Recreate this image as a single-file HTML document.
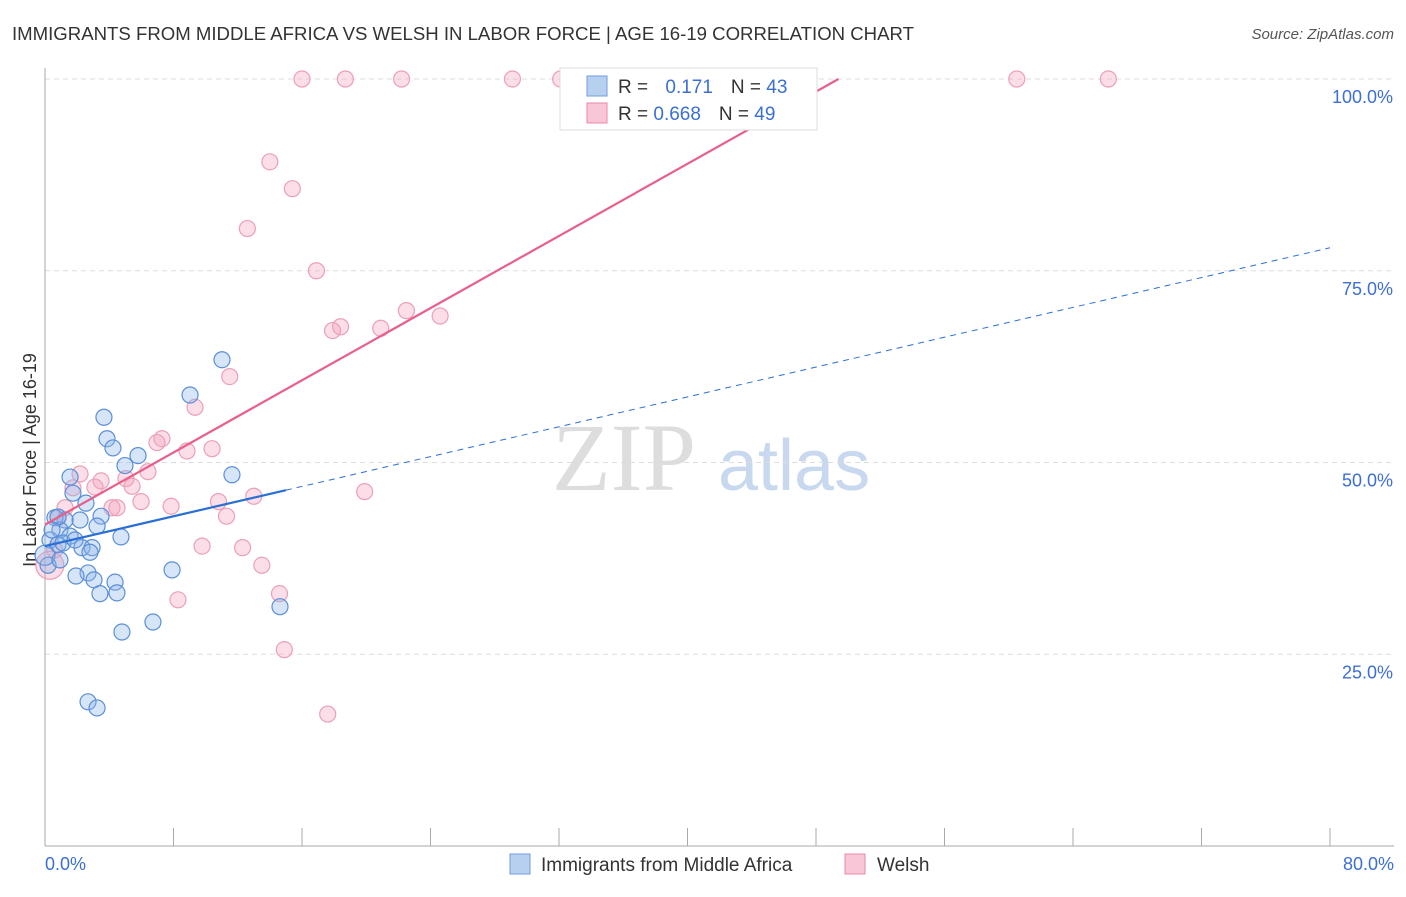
<!DOCTYPE html>
<html><head><meta charset="utf-8"><style>
body{margin:0;background:#fff;font-family:"Liberation Sans",sans-serif;}
svg text{font-family:"Liberation Sans",sans-serif;}
</style></head><body>
<svg id="c" width="1406" height="892" xmlns="http://www.w3.org/2000/svg">
<text x="12" y="40" font-size="18.6" fill="#333">IMMIGRANTS FROM MIDDLE AFRICA VS WELSH IN LABOR FORCE | AGE 16-19 CORRELATION CHART</text>
<text x="1394" y="39" font-size="15" fill="#555" font-style="italic" text-anchor="end">Source: ZipAtlas.com</text>
<text x="36" y="460" font-size="18" fill="#333" transform="rotate(-90 36 460)" text-anchor="middle">In Labor Force | Age 16-19</text>
<g><text x="552" y="490" font-size="96" fill="#ddd" style="font-family:'Liberation Serif',serif">ZIP</text><text x="718" y="490" font-size="72" fill="#c8d8ee">atlas</text></g>
<g id="grid"></g><g id="pts"></g><g id="lines"></g>
<g>
<rect x="560" y="68" width="257" height="62" fill="#fff" stroke="#ddd"/>
<rect x="587" y="76" width="20" height="20" fill="#b8d0f0" stroke="#6f9ee0"/>
<text x="618" y="93" font-size="19" fill="#333">R = <tspan fill="#3b6fd4" dx="12">0.171</tspan><tspan dx="18">N = </tspan><tspan fill="#3b6fd4">43</tspan></text>
<rect x="587" y="103" width="20" height="20" fill="#f8c6d6" stroke="#e98aa8"/>
<text x="618" y="120" font-size="19" fill="#333">R = <tspan fill="#3b6fd4">0.668</tspan><tspan dx="18">N = </tspan><tspan fill="#3b6fd4">49</tspan></text>
</g>
<g>
<rect x="510" y="854" width="20" height="20" fill="#b8d0f0" stroke="#6f9ee0"/>
<text x="541" y="871" font-size="19" fill="#333">Immigrants from Middle Africa</text>
<rect x="845" y="854" width="20" height="20" fill="#f8c6d6" stroke="#e98aa8"/>
<text x="877" y="871" font-size="19" fill="#333">Welsh</text>
</g>
</svg>
<script>
const blueX=[3.67,3.86,4.23,5.79,4.98,1.56,1.74,2.55,3.49,2.18,3.24,1.25,0.62,0.93,1.56,4.73,0.31,0.81,2.30,2.93,2.80,0.19,2.68,1.93,3.05,4.36,3.42,4.48,4.79,6.72,7.91,9.03,11.02,11.64,14.63,2.68,3.24,0.81,1.12,0.44,1.87,0.0,0.93];
const blueY=[55.9,53.1,51.9,50.9,49.6,48.1,46.0,44.7,43.0,42.5,41.7,42.5,42.8,41.2,40.4,40.3,39.9,39.3,38.9,38.9,38.3,36.6,35.6,35.2,34.7,34.4,32.9,33.0,27.9,29.2,36.0,58.8,63.4,48.4,31.2,18.8,18.0,42.9,39.5,41.2,39.9,37.9,37.3];
const pinkX=[16.0,18.7,22.2,29.1,32.1,36.4,60.5,66.2,14.0,15.4,12.6,16.9,22.5,24.6,18.4,17.9,20.9,11.5,9.34,7.28,6.97,10.4,8.84,6.41,2.18,3.49,5.04,5.42,3.11,1.74,5.98,7.85,10.8,13.0,19.9,4.17,4.48,11.3,1.25,0.81,9.78,12.3,13.5,14.6,8.28,14.9,17.6,0.3,0.6];
const pinkY=[100,100,100,100,100,100,100,100,89.2,85.7,80.5,75.0,69.8,69.1,67.7,67.2,67.5,61.2,57.2,53.1,52.6,51.8,51.5,48.8,48.5,47.6,47.9,46.9,46.8,46.7,44.9,44.3,44.9,45.6,46.2,44.1,44.1,43.0,44.1,42.8,39.1,38.9,36.6,32.9,32.1,25.6,17.2,36.6,38.6];
const blueTrend=[39.1,78.0]; // y at x=0, x=80
const pinkTrend=[41.9,49.4]; // y at x=0, x where y=100
const yTicks=[25,50,75,100];
const xTickLabels=["0.0%","80.0%"];
const X=v=>45+v/80*1285, Y=v=>846-v/100*767;
const NS="http://www.w3.org/2000/svg";
function mk(t,a,p){const e=document.createElementNS(NS,t);for(const k in a)e.setAttribute(k,a[k]);p.appendChild(e);return e;}
const g=document.getElementById('grid');
for(const t of yTicks){
 const l=mk('line',{x1:45,x2:1394,y1:Y(t),y2:Y(t),stroke:'#ddd','stroke-dasharray':'5,4'},g);
 
 
 const tx=mk('text',{x:1393,y:Y(t)+24,'font-size':18,fill:'#3b6fd4','text-anchor':'end'},g);tx.textContent=t.toFixed(1)+'%';
 
 
}
const ax=mk('line',{x1:45,x2:45,y1:68,y2:846,stroke:'#aaa'},g);


const bx=mk('line',{x1:45,x2:1394,y1:846,y2:846,stroke:'#aaa'},g);


for(let i=0;i<=10;i++){const tk=mk('line',{x1:X(i*8),x2:X(i*8),y1:828,y2:846,stroke:'#aaa'},g);
 
 }
[[0,45,'start'],[80,1394,'end']].forEach((d,i)=>{const t=mk('text',{x:d[1],y:870,'font-size':18,fill:'#3b6fd4','text-anchor':d[2]},g);t.textContent=xTickLabels[i];
 
 });
const p=document.getElementById('pts');
pinkX.forEach((x,i)=>{const c=mk('circle',{cx:X(x),cy:Y(pinkY[i]),r:i==47?14:8,fill:'rgba(244,160,188,0.35)',stroke:'#eba0b8','stroke-width':1.2},p);
 
 });
blueX.forEach((x,i)=>{const c=mk('circle',{cx:X(x),cy:Y(blueY[i]),r:i==41?10:8,fill:'rgba(140,180,235,0.35)',stroke:'#5b8fd8','stroke-width':1.2},p);
 
 });
const L=document.getElementById('lines');
const by=x=>blueTrend[0]+(blueTrend[1]-blueTrend[0])*x/80;
let l1=mk('line',{x1:X(0),y1:Y(by(0)),x2:X(15),y2:Y(by(15)),stroke:'#2a6fd6','stroke-width':2.2},L);


let l2=mk('line',{x1:X(15),y1:Y(by(15)),x2:X(80),y2:Y(by(80)),stroke:'#2a6fd6','stroke-width':1,'stroke-dasharray':'6,5'},L);


let l3=mk('line',{x1:X(0),y1:Y(pinkTrend[0]),x2:X(pinkTrend[1]),y2:Y(100),stroke:'#e8608a','stroke-width':2.2},L);


</script>
</body></html>
